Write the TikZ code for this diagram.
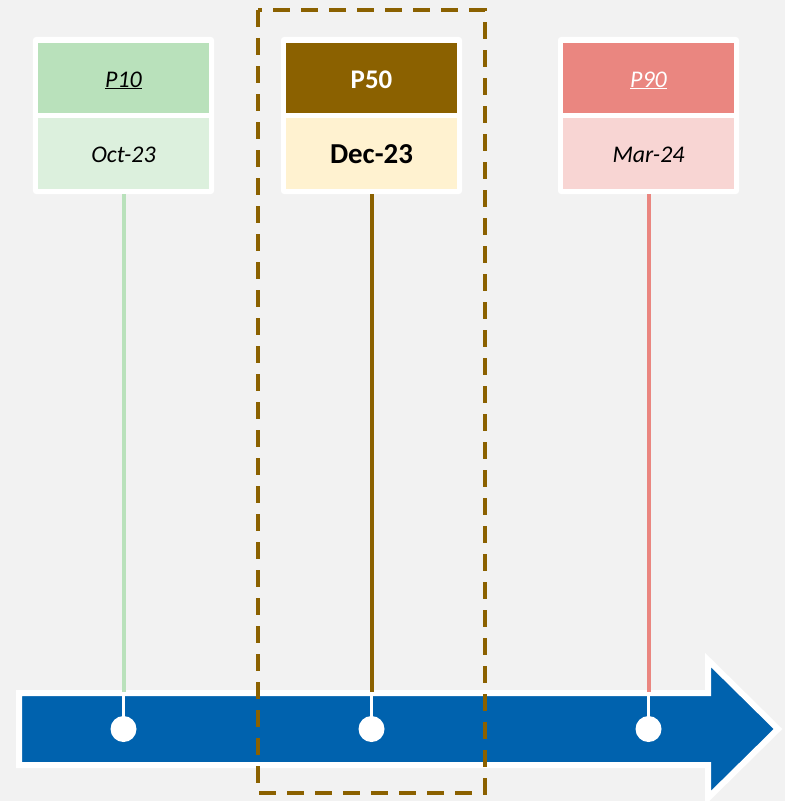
\documentclass[tikz,border=0pt]{standalone}
\usepackage{fontspec}
\setmainfont{Carlito}
\definecolor{bgc}{HTML}{F2F2F2}
\definecolor{arrowblue}{HTML}{0062AE}
\definecolor{gtop}{HTML}{B9E1BB}
\definecolor{gbot}{HTML}{DCF0DD}
\definecolor{btop}{HTML}{8B6100}
\definecolor{bbot}{HTML}{FFF2D0}
\definecolor{ptop}{HTML}{EA8680}
\definecolor{pbot}{HTML}{F8D5D3}
\begin{document}
\begin{tikzpicture}[x=1bp,y=-1bp,
  outerbox/.style={draw=none,fill=white,rounded corners=3bp,minimum width=181bp,minimum height=157bp,inner sep=0pt},
  cellbox/.style={draw=none,minimum width=171bp,minimum height=70bp,inner sep=0pt},
  itext/.style={font=\fontsize{24}{28}\selectfont\itshape,text height=18bp,text depth=0bp},
  btext/.style={font=\fontsize{27}{32}\selectfont\bfseries,text height=20bp,text depth=0bp},
  stem/.style={line width=4bp},
  whitestem/.style={line width=3bp,white},
  dot/.style={circle,fill=white,draw=none,minimum size=26bp,inner sep=0pt}]
\useasboundingbox (0,0) rectangle (785,801);
\fill[bgc] (0,0) rectangle (785,801);
% arrow
\draw[white,line width=6bp,fill=arrowblue,miter limit=10]
  (19,693) -- (708,693) -- (708,660) -- (778,729) -- (708,798) -- (708,765) -- (19,765) -- cycle;
% boxes
\node[outerbox] (p10box) at (123.5,115.5) {};
\node[cellbox,fill=gtop,itext] (p10top) at (123.5,78) {\underline{P10}};
\node[cellbox,fill=gbot,itext,minimum height=71bp] (p10bot) at (123.5,153.5) {Oct-23};
\node[outerbox] (p50box) at (371.5,115.5) {};
\node[cellbox,fill=btop,btext,text=white] (p50top) at (371.5,78) {P50};
\node[cellbox,fill=bbot,btext,minimum height=71bp,font=\fontsize{29}{34}\selectfont\bfseries] (p50bot) at (371.5,153.5) {Dec-23};
\node[outerbox] (p90box) at (648.5,115.5) {};
\node[cellbox,fill=ptop,itext,text=white] (p90top) at (648.5,78) {\underline{P90}};
\node[cellbox,fill=pbot,itext,minimum height=71bp] (p90bot) at (648.5,153.5) {Mar-24};
% stems
\coordinate (p10a) at (123.5,692);
\coordinate (p50a) at (371.5,692);
\coordinate (p90a) at (648.5,692);
\node[dot] (p10dot) at (123.5,729) {};
\node[dot] (p50dot) at (371.5,729) {};
\node[dot] (p90dot) at (648.5,729) {};
\draw[stem,gtop] (p10box.south) -- (p10a);
\draw[stem,btop] (p50box.south) -- (p50a);
\draw[stem,ptop] (p90box.south) -- (p90a);
\draw[whitestem] (p10a) -- (p10dot.center);
\draw[whitestem] (p50a) -- (p50dot.center);
\draw[whitestem] (p90a) -- (p90dot.center);
% highlight frame
\draw[btop,line width=3.5bp,dash pattern=on 17bp off 11bp] (258,10) rectangle (485,793);
\end{tikzpicture}
\end{document}
